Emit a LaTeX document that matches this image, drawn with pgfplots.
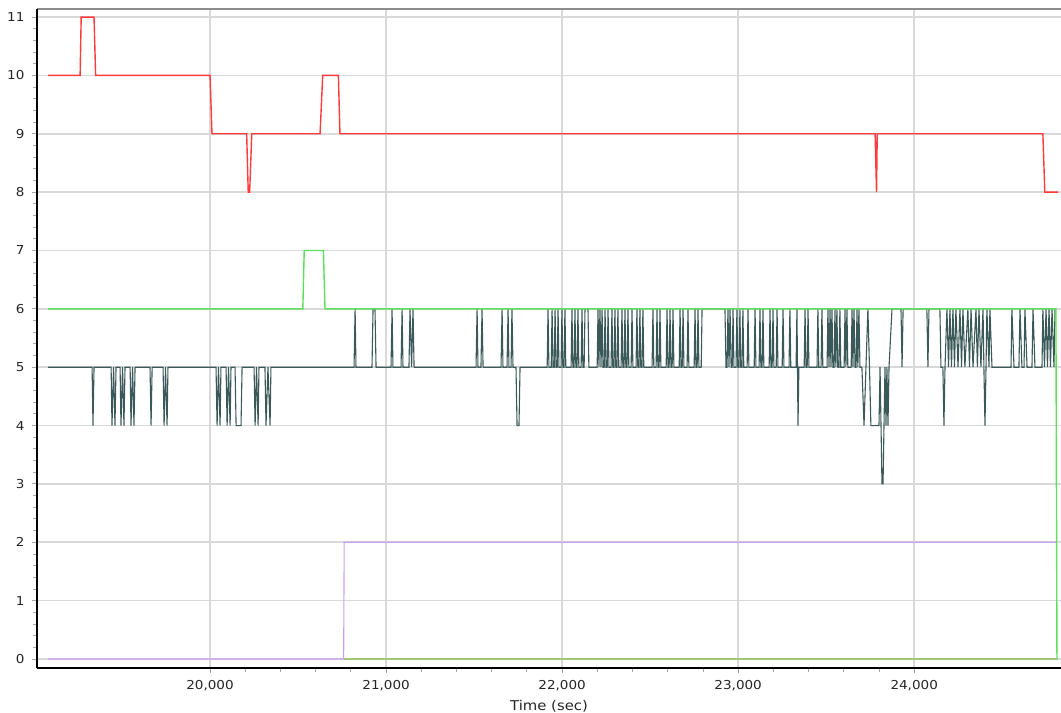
\documentclass[border=0pt]{standalone}
\usepackage{pgfplots}
\pgfplotsset{compat=1.18}
\usepackage{fontspec}
\setmainfont{DejaVu Sans}[FakeStretch=1.1]
\definecolor{redline}{HTML}{FF3B3B}
\definecolor{greenline}{HTML}{5EE05E}
\definecolor{darkline}{HTML}{3B5959}
\definecolor{purpleline}{HTML}{CA9FEE}
\definecolor{oliveline}{HTML}{A3C774}
\begin{document}
\begin{tikzpicture}
\begin{axis}[
    scale only axis,
    width=1024pt, height=659pt,
    xmin=19017, xmax=24834,
    ymin=-0.154, ymax=11.138,
    xtick={20000,21000,22000,23000,24000},
    minor x tick num=4,
    ytick={0,1,2,3,4,5,6,7,8,9,10,11},
    minor y tick num=4,
    tick pos=left,
    tick align=outside,
    major tick length=5pt, minor tick length=4pt,
    every tick/.style={color=black!35, line width=0.9pt},
    grid=major,
    major grid style={color=black!15, line width=1.6pt},
    axis line style={draw=none},
    scaled x ticks=false,
    /pgf/number format/assume math mode=true,
    ticklabel style={font=\fontsize{12.3}{14}\selectfont, text=black!85},
    xticklabel style={yshift=-4pt},
    yticklabel style={xshift=-4pt},
    xlabel={Time (sec)},
    xlabel style={font=\fontsize{13.5}{16}\selectfont, text=black!85, yshift=-2pt},
    clip=false,
]
\addplot[darkline, line width=1.1pt] coordinates {
(19080,5) (19330,5) (19335,4) (19341,5)
(19438,5) (19443,4) (19452,5) (19460,4) (19466,5)
(19489,5) (19494,4) (19503,5) (19511,4) (19517,5)
(19546,5) (19551,4) (19560,5) (19568,4) (19574,5)
(19659,5) (19665,4) (19671,5)
(19733,5) (19739,4) (19747,5) (19756,4) (19761,5)
(20034,5) (20040,4) (20048,5) (20057,4) (20062,5)
(20091,5) (20097,4) (20105,5) (20114,4) (20119,5)
(20142,5) (20148,4) (20176,4) (20182,5)
(20250,5) (20256,4) (20264,5) (20273,4) (20278,5)
(20312,5) (20318,4) (20329,5) (20341,4) (20346,5)
(20818,5) (20824,6) (20829,5)
(20920,5) (20926,6) (20937,6) (20943,5)
(21028,5) (21034,6) (21039,5)
(21085,5) (21091,6) (21096,5)
(21130,5) (21136,6) (21145,5) (21153,6) (21159,5)
(21511,5) (21517,6) (21522,5)
(21539,5) (21545,6) (21551,5)
(21653,5) (21659,6) (21664,5)
(21687,5) (21693,6) (21698,5)
(21710,5) (21715,6) (21721,5)
(21738,5) (21744,4) (21755,4) (21761,5)
(21915,5) (21920,6) (21925,5)
(21938,5) (21943,6) (21948,5)
(21955,5) (21960,6) (21965,5)
(21972,5) (21977,6) (21982,5)
(21994,5) (21999,6) (22004,5)
(22011,5) (22016,6) (22021,5)
(22051,5) (22056,6) (22061,5)
(22068,5) (22073,6) (22078,5)
(22085,5) (22090,6) (22095,5)
(22108,5) (22113,6) (22118,5)
(22125,5) (22130,6) (22147,6) (22152,5)
(22199,5) (22204,6) (22209,5) (22215,6) (22221,5) (22227,6) (22232,5)
(22239,5) (22244,6) (22249,5)
(22256,5) (22261,6) (22266,5)
(22278,5) (22283,6) (22288,5)
(22295,5) (22300,6) (22305,5)
(22312,5) (22317,6) (22322,5)
(22335,5) (22340,6) (22345,5)
(22352,5) (22357,6) (22362,5)
(22369,5) (22374,6) (22379,5)
(22392,5) (22397,6) (22402,5)
(22420,5) (22425,6) (22430,5)
(22437,5) (22442,6) (22447,5)
(22454,5) (22459,6) (22464,5)
(22511,5) (22516,6) (22521,5)
(22534,5) (22539,6) (22544,5)
(22551,5) (22556,6) (22561,5)
(22591,5) (22596,6) (22601,5)
(22608,5) (22613,6) (22618,5)
(22625,5) (22630,6) (22635,5)
(22665,5) (22670,6) (22675,5)
(22682,5) (22687,6) (22692,5)
(22710,5) (22715,6) (22720,5)
(22750,5) (22755,6) (22760,5)
(22767,5) (22772,6) (22777,5)
(22790,5) (22795,6) (22925,6) (22931,5)
(22937,5) (22942,6) (22948,5) (22954,6) (22960,5)
(22966,5) (22971,6) (22976,5)
(22988,5) (22993,6) (22998,5)
(23005,5) (23010,6) (23015,5)
(23022,5) (23027,6) (23032,5)
(23051,5) (23056,6) (23061,5)
(23091,5) (23096,6) (23101,5)
(23119,5) (23124,6) (23129,5)
(23136,5) (23141,6) (23146,5)
(23176,5) (23181,6) (23186,5)
(23193,5) (23198,6) (23203,5)
(23216,5) (23221,6) (23226,5)
(23250,5) (23255,6) (23260,5)
(23289,5) (23294,6) (23299,5)
(23329,5) (23334,6) (23337,5) (23340,4) (23345,5)
(23375,5) (23380,6) (23385,5)
(23392,5) (23397,6) (23402,5)
(23448,5) (23453,6) (23458,5)
(23471,5) (23476,6) (23481,5)
(23505,5) (23510,6) (23516,5) (23522,6) (23527,5) (23533,6) (23538,5)
(23545,5) (23550,6) (23555,5) (23561,6) (23566,5)
(23573,5) (23578,6) (23583,5)
(23602,5) (23607,6) (23612,5) (23618,6) (23623,5)
(23642,5) (23647,6) (23652,5) (23658,6) (23664,5)
(23670,5) (23675,6) (23680,5) (23686,6) (23692,5)
(23703,5) (23715,4) (23726,5) (23737,6) (23746,5) (23754,4) (23800,4) (23806,5)
(23817,3) (23823,3) (23834,5) (23840,4) (23845,5) (23851,4) (23857,5) (23874,6)
(23925,6) (23931,5) (23937,6)
(24072,6) (24078,5) (24084,6)
(24146,6) (24152,5) (24163,5) (24169,4) (24175,5) (24186,6) (24195,5) (24203,6)
(24212,5) (24220,6) (24229,5) (24237,6) (24249,5) (24260,6) (24269,5) (24277,6)
(24288,5) (24305,6) (24314,5) (24323,6) (24334,5) (24351,6) (24359,5) (24368,6)
(24379,5) (24391,6) (24396,5) (24402,4) (24408,5) (24413,6) (24425,5) (24430,6) (24442,5)
(24550,5) (24555,6) (24567,5)
(24595,5) (24601,6) (24612,5)
(24624,5) (24629,6) (24641,5)
(24669,5) (24675,6) (24686,5)
(24726,5) (24731,6) (24740,5) (24749,6) (24757,5) (24766,6) (24774,5) (24783,6)
(24794,5) (24800,6) (24805,6)
};
\addplot[purpleline, line width=1.1pt] coordinates {
(19080,0) (20759,0) (20762,2) (24805,2)
};
\addplot[oliveline, line width=1.3pt] coordinates {
(20762,0) (24811,0)
};
\addplot[greenline, line width=1.4pt] coordinates {
(19080,6) (20527,6) (20535,7) (20644,7) (20653,6) (24805,6) (24811,0) (24815,0)
};
\addplot[redline, line width=1.4pt] coordinates {
(19080,10) (19262,10) (19268,11) (19341,11) (19350,10) (20000,10) (20011,9)
(20208,9) (20217,8) (20225,8) (20237,9) (20625,9) (20640,10) (20729,10) (20738,9)
(23778,9) (23786,8) (23790,9) (24731,9) (24742,8) (24818,8)
};
\draw[black!45, line width=1.5pt] (rel axis cs:0,1) -- (rel axis cs:1,1);
\draw[black, line width=2pt] (rel axis cs:0,0) -- (rel axis cs:1,0);
\draw[black, line width=2pt] (rel axis cs:0,0) -- (rel axis cs:0,1);
\end{axis}
\pgfresetboundingbox
\path ([xshift=-37pt,yshift=9pt]current axis.north west) rectangle ([yshift=-45pt]current axis.south east);
\end{tikzpicture}
\end{document}
